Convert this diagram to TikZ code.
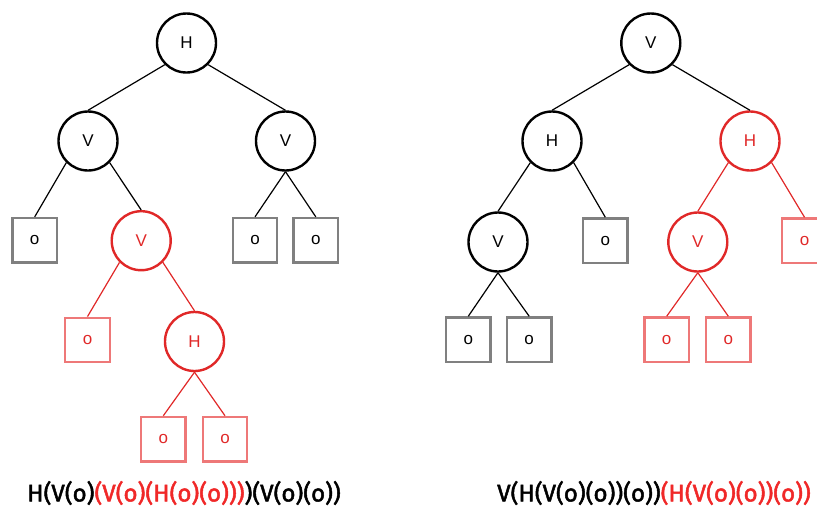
\documentclass[tikz,border=0pt]{standalone}
\usepackage{fontspec}
\setmainfont{Liberation Sans}
\newfontfamily\capfont{Fira Sans}[FakeBold=2]
\definecolor{nodered}{HTML}{E02828}
\definecolor{boxred}{HTML}{EE7878}
\definecolor{boxgray}{HTML}{808080}
\definecolor{capred}{HTML}{F02828}
\tikzset{
  inode/.style={circle, draw=black, line width=2.4pt, minimum size=59pt, inner sep=0pt, font=\fontsize{17}{17}\selectfont},
  rnode/.style={inode, draw=nodered, text=nodered},
  leaf/.style={rectangle, draw=boxgray, line width=2.4pt, minimum size=44.5pt, inner sep=0pt, font=\fontsize{17}{17}\selectfont},
  rleaf/.style={leaf, draw=boxred, text=nodered},
  conn/.style={draw=black, line width=1.2pt},
  rconn/.style={draw=nodered, line width=1.2pt},
  captext/.style={inner sep=0pt, anchor=west, font=\capfont\fontsize{24.1}{24.1}\selectfont}
}
\begin{document}
\begin{tikzpicture}[x=1pt, y=-1pt]
\useasboundingbox (0,0) rectangle (817,507);
% left tree
\node[inode] (lH) at (186.5,43) {H};
\node[inode] (lV1) at (88,141) {V};
\node[inode] (lV2) at (285.5,141) {V};
\node[leaf] (lo1) at (34.7,240.3) {o};
\node[rnode] (lrV) at (141.2,240.7) {V};
\node[leaf] (lo2) at (255,240.3) {o};
\node[leaf] (lo3) at (315.8,240.3) {o};
\node[rleaf] (lro1) at (87.5,340) {o};
\node[rnode] (lrH) at (194.5,341.5) {H};
\node[rleaf] (lro2) at (163.3,439.2) {o};
\node[rleaf] (lro3) at (225,439.2) {o};
\draw[conn] (lH.-135) -- (lV1.north);
\draw[conn] (lH.-45) -- (lV2.north);
\draw[conn] (lV1.-135) -- (lo1.north);
\draw[conn] (lV1.-45) -- (lrV.north);
\draw[conn] (lV2.south) -- (lo2.north);
\draw[conn] (lV2.south) -- (lo3.north);
\draw[rconn] (lrV.-135) -- (lro1.north);
\draw[rconn] (lrV.-45) -- (lrH.north);
\draw[rconn] (lrH.south) -- (lro2.north);
\draw[rconn] (lrH.south) -- (lro3.north);
% right tree
\node[inode] (rV) at (650.8,43) {V};
\node[inode] (rH1) at (552,141) {H};
\node[rnode] (rrH) at (750,141) {H};
\node[inode] (rV1) at (498,242) {V};
\node[leaf] (ro1) at (605.3,240.7) {o};
\node[rnode] (rrV) at (697.8,242) {V};
\node[rleaf] (rro1) at (804.5,240.7) {o};
\node[leaf] (ro2) at (468.3,339.7) {o};
\node[leaf] (ro3) at (529.2,339.7) {o};
\node[rleaf] (rro2) at (666.7,339.7) {o};
\node[rleaf] (rro3) at (728.3,339.7) {o};
\draw[conn] (rV.-135) -- (rH1.north);
\draw[conn] (rV.-45) -- (rrH.north);
\draw[conn] (rH1.-135) -- (rV1.north);
\draw[conn] (rH1.-45) -- (ro1.north);
\draw[conn] (rV1.south) -- (ro2.north);
\draw[conn] (rV1.south) -- (ro3.north);
\draw[rconn] (rrH.-135) -- (rrV.north);
\draw[rconn] (rrH.-45) -- (rro1.north);
\draw[rconn] (rrV.south) -- (rro2.north);
\draw[rconn] (rrV.south) -- (rro3.north);
% captions
\node[captext] (c1) at (27,493) {H(V(o)\textcolor{capred}{(V(o)(H(o)(o)))})(V(o)(o))};
\node[captext] (c2) at (497,493) {V(H(V(o)(o))(o))\textcolor{capred}{(H(V(o)(o))(o))}};
\end{tikzpicture}
\end{document}
